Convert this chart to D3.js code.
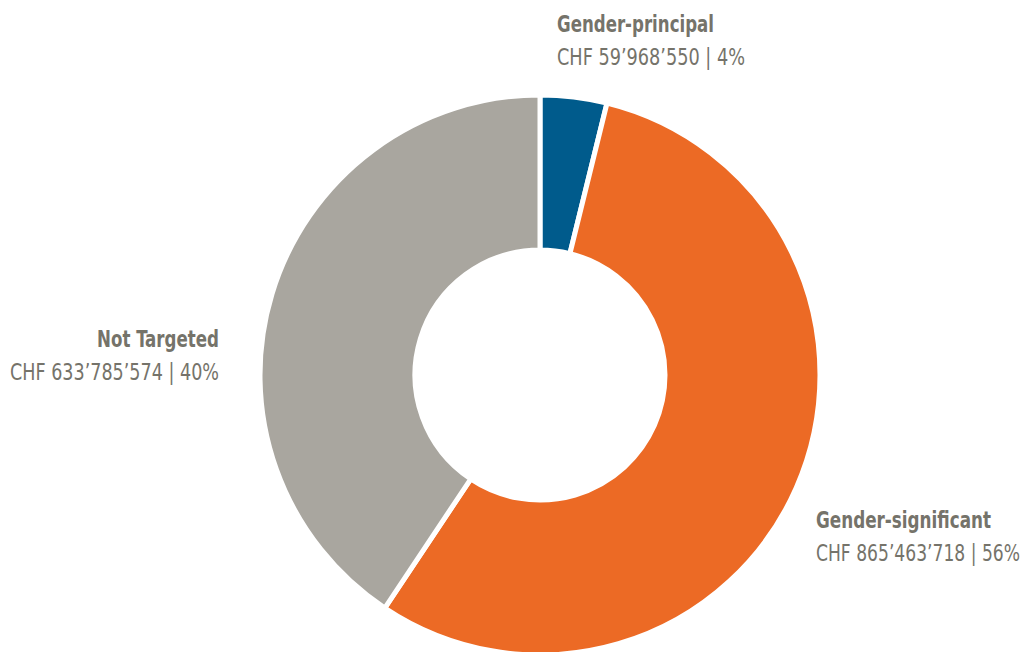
<!DOCTYPE html>
<html>
<head>
<meta charset="utf-8">
<script src="https://d3js.org/d3.v7.min.js"></script>
<style>
  html, body { margin: 0; padding: 0; background: #fff; }
  svg { display: block; }
  .lbl { font-family: 'Liberation Sans Narrow', 'DejaVu Sans Condensed', 'DejaVu Sans', sans-serif; font-stretch: condensed; fill: #75736a; font-size: 23px; }
  .lbl .title { font-weight: bold; }
</style>
</head>
<body>
<svg id="chart" width="1025" height="652"></svg>
<script>
// data
const categories = ['Gender-principal', 'Gender-significant', 'Not Targeted'];
const amounts = [59968550, 865463718, 633785574];
const amountLabels = ['CHF 59’968’550 | 4%', 'CHF 865’463’718 | 56%', 'CHF 633’785’574 | 40%'];
const colors = ['#005b8c', '#ec6a25', '#a9a69f'];

const width = 1025, height = 652;
const cx = 540, cy = 375;
const outerR = 280, innerR = 125;

const svg = d3.select('#chart');

const pie = d3.pie().sort(null).value(d => d.value);
const arc = d3.arc().innerRadius(innerR).outerRadius(outerR);

const slices = pie(categories.map((c, i) => ({ name: c, value: amounts[i], color: colors[i] })));

const g = svg.append('g').attr('transform', `translate(${cx},${cy})`);

g.selectAll('path')
  .data(slices)
  .enter()
  .append('path')
  .attr('d', arc)
  .attr('fill', d => d.data.color)
  .attr('stroke', '#fff')
  .attr('stroke-width', 5)
  .attr('stroke-linejoin', 'miter');

// label placement: first-line position, anchor, and widths of the two lines
const labelPos = [
  { x: 557, y: 32, anchor: 'start', w1: 157, w2: 188 },
  { x: 816, y: 528, anchor: 'start', w1: 175, w2: 204 },
  { x: 219, y: 347, anchor: 'end', w1: 122, w2: 209 }
];

categories.forEach((c, i) => {
  const p = labelPos[i];
  const t = svg.append('text')
    .attr('class', 'lbl')
    .attr('text-anchor', p.anchor);
  t.append('tspan').attr('class', 'title')
    .attr('x', p.x).attr('y', p.y)
    .attr('textLength', p.w1).attr('lengthAdjust', 'spacingAndGlyphs')
    .text(c);
  t.append('tspan')
    .attr('x', p.x).attr('y', p.y + 33)
    .attr('textLength', p.w2).attr('lengthAdjust', 'spacingAndGlyphs')
    .text(amountLabels[i]);
});
</script>
</body>
</html>
